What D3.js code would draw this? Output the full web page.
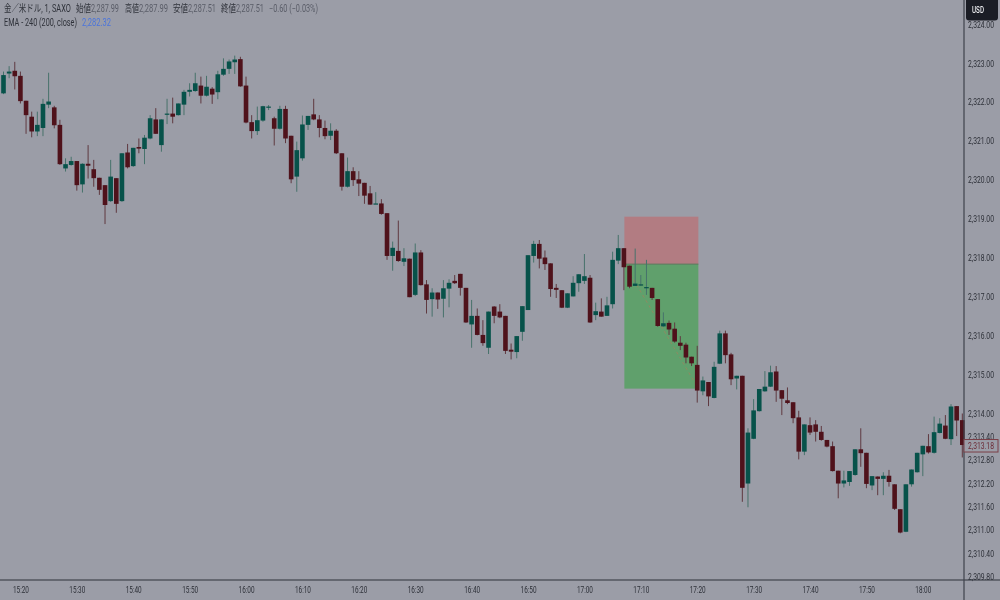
<!DOCTYPE html>
<html>
<head>
<meta charset="utf-8">
<script src="https://cdn.jsdelivr.net/npm/d3@7"></script>
<style>
  html, body { margin: 0; padding: 0; background: #9b9da7; }
  svg { display: block; filter: blur(0.35px); }
  text { font-family: Roboto, "Noto Sans CJK JP", sans-serif; }
</style>
</head>
<body>
<div id="chart"></div>
<script>
// one candle per minute, first one at 15:17
const opens = [
  2322.22,2322.73,2322.80,2322.67,2322.03,2321.62,2321.24,2321.33,2321.93,2321.86,
  2321.41,2320.29,2320.38,2320.48,2319.88,2320.41,2320.27,2320.05,2319.86,2319.45,
  2320.04,2319.45,2320.70,2320.35,2320.84,2320.79,2321.06,2321.55,2320.89,2321.68,
  2321.70,2321.66,2321.93,2322.26,2322.28,2322.42,2322.16,2322.34,2322.25,2322.70,
  2322.85,2323.02,2323.10,2322.42,2321.48,2321.25,2321.52,2321.87,2321.58,2321.31,
  2321.82,2321.13,2320.08,2320.55,2321.41,2321.68,2321.55,2321.33,2321.13,2321.26,
  2320.68,2319.82,2320.22,2320.01,2319.92,2319.65,2319.38,2319.39,2319.14,2318.04,
  2318.17,2317.89,2317.97,2317.04,2318.13,2317.31,2316.93,2317.10,2316.94,2317.20,
  2317.40,2317.58,2317.22,2316.28,2316.50,2316.01,2315.68,2316.74,2316.61,2316.50,
  2315.63,2315.57,2316.09,2316.65,2318.04,2318.35,2318.00,2317.85,2317.22,2317.16,
  2316.71,2317.00,2317.34,2317.40,2317.48,2316.52,2316.61,2316.50,2316.80,2317.92,
  2318.24,2317.79,2317.27,2317.28,2317.22,2317.22,2316.93,2316.23,2316.32,2316.17,
  2315.81,2315.76,2315.45,2315.24,2314.56,2314.80,2314.39,2315.27,2316.05,2315.51,
  2314.89,2314.96,2312.19,2313.34,2314.05,2314.56,2314.68,2315.07,2314.59,2314.33,
  2314.28,2313.89,2313.01,2313.69,2313.71,2313.52,2313.31,2313.15,2312.52,2312.19,
  2312.23,2312.41,2313.07,2312.98,2312.14,2312.37,2312.31,2312.39,2312.17,2311.53,
  2310.95,2312.17,2312.48,2312.94,2313.15,2312.98,2313.49,2313.68,2313.33,2314.18,
  2313.82];
const closes = [
  2322.69,2322.78,2322.66,2322.02,2321.66,2321.24,2321.41,2321.95,2322.01,2321.40,
  2320.40,2320.40,2320.48,2319.86,2320.41,2320.36,2320.04,2319.74,2319.35,2320.08,
  2319.38,2320.68,2320.32,2320.82,2320.80,2321.08,2321.58,2321.18,2321.55,2321.70,
  2321.62,2321.96,2322.26,2322.31,2322.48,2322.16,2322.39,2322.19,2322.71,2322.85,
  2323.04,2323.09,2322.40,2321.47,2321.25,2321.53,2321.89,2321.88,2321.31,2321.82,
  2321.06,2320.01,2320.76,2321.42,2321.64,2321.55,2321.33,2321.12,2321.26,2320.68,
  2319.82,2320.22,2319.99,2319.90,2319.59,2319.36,2319.39,2319.12,2318.04,2318.25,
  2317.91,2317.98,2316.98,2318.13,2317.29,2316.91,2317.10,2316.92,2317.21,2317.35,
  2317.34,2317.22,2316.33,2316.50,2316.01,2315.80,2316.61,2316.50,2316.46,2315.60,
  2315.58,2315.98,2316.75,2318.06,2318.35,2317.97,2317.83,2317.19,2317.17,2316.71,
  2317.08,2317.35,2317.57,2317.52,2316.33,2316.62,2316.48,2316.77,2317.94,2318.24,
  2317.75,2317.25,2317.33,2317.31,2317.24,2316.96,2316.24,2316.31,2316.15,2315.84,
  2315.73,2315.43,2315.28,2314.58,2314.84,2314.43,2315.19,2316.05,2315.49,2314.87,
  2314.96,2312.08,2313.50,2314.07,2314.62,2314.68,2315.05,2314.58,2314.37,2314.26,
  2313.87,2313.01,2313.71,2313.50,2313.52,2313.31,2313.14,2312.51,2312.19,2312.27,
  2312.51,2313.07,2312.97,2312.18,2312.38,2312.31,2312.39,2312.23,2311.54,2310.93,
  2312.17,2312.55,2312.98,2313.16,2312.99,2313.51,2313.73,2313.34,2314.17,2313.81,
  2313.18];
const highs = [
  2322.78,2322.92,2323.03,2322.78,2322.03,2321.75,2321.75,2322.08,2322.75,2321.90,
  2321.54,2320.55,2320.59,2320.48,2320.42,2320.89,2320.51,2320.05,2319.86,2320.51,
  2320.04,2320.68,2320.92,2320.82,2321.06,2321.15,2321.66,2321.84,2321.55,2322.08,
  2322.11,2321.96,2322.31,2322.48,2322.75,2322.65,2322.67,2322.38,2322.80,2323.12,
  2323.09,2323.19,2323.16,2322.65,2321.66,2321.88,2321.90,2321.92,2321.62,2321.90,
  2321.90,2321.13,2320.98,2321.65,2321.64,2322.08,2321.66,2321.52,2321.45,2321.30,
  2320.68,2320.57,2320.32,2320.22,2319.92,2319.84,2319.68,2319.50,2319.14,2318.41,
  2318.95,2318.24,2317.97,2318.36,2318.19,2317.42,2317.21,2317.10,2317.42,2317.44,
  2317.55,2317.58,2317.22,2316.91,2316.69,2316.39,2316.61,2316.75,2316.80,2316.50,
  2315.79,2315.98,2316.75,2318.06,2318.43,2318.45,2318.18,2317.85,2317.32,2317.16,
  2317.08,2317.52,2317.57,2318.09,2317.55,2316.84,2316.95,2316.99,2318.15,2318.58,
  2318.24,2317.79,2318.23,2317.55,2317.94,2317.22,2316.93,2316.59,2316.38,2316.33,
  2315.98,2315.81,2315.45,2315.73,2314.94,2314.80,2315.32,2316.12,2316.12,2315.55,
  2314.96,2314.96,2313.61,2314.36,2314.62,2315.08,2315.22,2315.21,2314.59,2314.66,
  2314.28,2314.06,2313.71,2313.89,2313.82,2313.67,2313.31,2313.27,2312.52,2312.52,
  2312.51,2313.07,2313.61,2312.98,2312.38,2312.37,2312.48,2312.54,2312.17,2311.53,
  2312.17,2312.55,2312.98,2313.16,2313.46,2313.91,2313.87,2313.95,2314.23,2314.18,
  2313.99];
const lows = [
  2322.20,2322.61,2322.32,2321.96,2321.18,2321.09,2321.12,2321.12,2321.84,2321.32,
  2320.38,2320.21,2320.36,2319.72,2319.67,2320.03,2319.82,2319.61,2318.86,2319.43,
  2319.15,2319.43,2320.29,2320.33,2320.68,2320.40,2321.04,2321.18,2320.72,2321.43,
  2321.45,2321.65,2321.66,2322.14,2322.26,2321.96,2322.14,2321.95,2322.07,2322.67,
  2322.72,2322.72,2322.39,2321.45,2321.06,2321.15,2321.49,2321.79,2320.88,2321.29,
  2320.94,2319.91,2319.69,2320.49,2321.28,2321.53,2321.09,2321.04,2321.02,2320.66,
  2319.72,2319.80,2319.84,2319.58,2319.38,2319.36,2319.38,2319.10,2317.94,2317.66,
  2317.89,2317.78,2316.98,2317.01,2317.28,2316.56,2316.48,2316.68,2316.46,2316.72,
  2317.32,2317.02,2316.32,2315.68,2316.00,2315.73,2315.52,2316.31,2316.44,2315.52,
  2315.38,2315.41,2315.86,2316.65,2317.87,2317.72,2317.68,2316.99,2316.96,2316.70,
  2316.70,2317.00,2317.12,2317.32,2316.32,2316.39,2316.48,2316.50,2316.69,2317.83,
  2317.16,2317.21,2317.27,2317.27,2317.04,2316.91,2316.22,2316.22,2316.01,2315.81,
  2315.62,2315.28,2315.21,2314.27,2314.46,2314.18,2314.38,2315.26,2315.28,2314.72,
  2314.61,2311.72,2311.58,2313.33,2314.04,2314.55,2314.67,2314.29,2313.95,2314.23,
  2313.74,2312.81,2312.92,2313.44,2313.27,2313.29,2313.12,2312.50,2311.81,2312.09,
  2312.13,2312.39,2312.62,2312.07,2312.02,2311.89,2311.89,2312.11,2311.51,2310.91,
  2310.94,2312.11,2312.47,2312.38,2312.96,2312.96,2313.48,2313.33,2313.18,2313.41,
  2312.86];

const priceTicks = [2324, 2323, 2322, 2321, 2320, 2319, 2318, 2317, 2316, 2315, 2314,
  2313.4, 2312.8, 2312.2, 2311.6, 2311, 2310.4, 2309.8];
const lastPrice = 2313.18;

// short position tool
const stopPrice = 2319.05;
const entryPrice = 2317.83;
const targetPrice = 2314.63;
const toolStart = new Date(2024, 0, 2, 17, 7, 5);
const toolEnd = new Date(2024, 0, 2, 17, 20, 12);

const firstBar = new Date(2024, 0, 2, 15, 17);
const lastBar = new Date(2024, 0, 2, 18, 7);

const w = 1000, h = 600;
const axisX = 964, axisY = 580;

const x = d3.scaleTime().domain([firstBar, lastBar]).range([3.5, 962.3]);
const y = d3.scaleLinear().domain([2324.62, 2309.71]).range([0, axisY]);
const barTime = (i) => d3.timeMinute.offset(firstBar, i);

// the reference text is horizontally squeezed, so scale each label to its width
function squeeze(selection, width) {
  selection.each(function(d) {
    const label = d3.select(this);
    const left = +label.attr('x') || 0;
    const target = typeof width === 'function' ? width(d) : width;
    const ratio = target / this.getComputedTextLength();
    label.attr('x', 0)
      .attr('transform', `translate(${left},0) scale(${ratio},1)`);
  });
}

const svg = d3.select('#chart').append('svg')
  .attr('width', w)
  .attr('height', h);

svg.append('rect')
  .attr('width', w)
  .attr('height', h)
  .attr('fill', '#9b9da7');

// position tool zones
svg.append('rect')
  .attr('x', x(toolStart))
  .attr('y', y(stopPrice))
  .attr('width', x(toolEnd) - x(toolStart))
  .attr('height', y(entryPrice) - y(stopPrice))
  .attr('fill', '#b27c82');

svg.append('rect')
  .attr('x', x(toolStart))
  .attr('y', y(entryPrice))
  .attr('width', x(toolEnd) - x(toolStart))
  .attr('height', y(targetPrice) - y(entryPrice))
  .attr('fill', '#60a06c');

svg.append('line')
  .attr('x1', x(toolStart))
  .attr('x2', x(toolEnd))
  .attr('y1', y(entryPrice))
  .attr('y2', y(entryPrice))
  .attr('stroke', '#5b7a5c');

svg.append('line')
  .attr('x1', x(toolStart))
  .attr('x2', x(toolEnd))
  .attr('y1', y(entryPrice))
  .attr('y2', y(targetPrice))
  .attr('stroke', '#8f8a62')
  .attr('stroke-dasharray', '3 3');

// candles
const candles = d3.range(opens.length);
const isUp = (i) => closes[i] >= opens[i];
const plot = svg.append('g').attr('class', 'candles');

plot.selectAll('line')
  .data(candles)
  .enter()
  .append('line')
  .attr('x1', (i) => x(barTime(i)))
  .attr('x2', (i) => x(barTime(i)))
  .attr('y1', (i) => y(highs[i]))
  .attr('y2', (i) => y(lows[i]))
  .attr('stroke', (i) => (isUp(i) ? '#47726b' : '#5f3940'))
  .attr('stroke-width', 1);

plot.selectAll('rect')
  .data(candles)
  .enter()
  .append('rect')
  .attr('x', (i) => x(barTime(i)) - 2.3)
  .attr('y', (i) => y(Math.max(opens[i], closes[i])))
  .attr('width', 4.6)
  .attr('height', (i) => Math.max(1.2, Math.abs(y(opens[i]) - y(closes[i]))))
  .attr('fill', (i) => (isUp(i) ? '#07524a' : '#4f121b'));

// axes
const yAxis = d3.axisRight(y)
  .tickValues(priceTicks)
  .tickSize(0)
  .tickPadding(4)
  .tickFormat(d3.format(',.2f'));

const xAxis = d3.axisBottom(x)
  .ticks(d3.timeMinute.every(10))
  .tickSize(0)
  .tickPadding(6)
  .tickFormat(d3.timeFormat('%H:%M'));

const yG = svg.append('g')
  .attr('transform', `translate(${axisX},0)`)
  .call(yAxis);
yG.select('.domain').remove();
yG.selectAll('text')
  .attr('font-family', 'Roboto')
  .attr('font-size', 9.5)
  .attr('fill', '#2c2f37')
  .call(squeeze, 26);

const xG = svg.append('g')
  .attr('transform', `translate(0,${axisY})`)
  .call(xAxis);
xG.select('.domain').remove();
xG.selectAll('text')
  .attr('font-family', 'Roboto')
  .attr('font-size', 9.5)
  .attr('fill', '#2c2f37')
  .call(squeeze, 16);

svg.append('line')
  .attr('x1', 0).attr('x2', w)
  .attr('y1', axisY).attr('y2', axisY)
  .attr('stroke', '#2f323a')
  .attr('stroke-width', 1.2);

svg.append('line')
  .attr('x1', axisX).attr('x2', axisX)
  .attr('y1', 0).attr('y2', h)
  .attr('stroke', '#3f424b')
  .attr('stroke-width', 1.2);

// last price tag
svg.append('rect')
  .attr('x', axisX)
  .attr('y', y(lastPrice) - 5.5)
  .attr('width', 34)
  .attr('height', 12.5)
  .attr('fill', '#9b9da7')
  .attr('stroke', '#7a3f48');

svg.append('text')
  .attr('x', 968)
  .attr('y', y(lastPrice) + 4)
  .attr('font-size', 9.5)
  .attr('fill', '#6b2a35')
  .text(d3.format(',.2f')(lastPrice))
  .call(squeeze, 26);

// currency button
svg.append('rect')
  .attr('x', 966)
  .attr('y', -4)
  .attr('width', 32)
  .attr('height', 24.5)
  .attr('rx', 3)
  .attr('fill', '#1b1d25');

svg.append('text')
  .attr('x', 972)
  .attr('y', 13.5)
  .attr('font-size', 9)
  .attr('font-weight', 500)
  .attr('fill', '#e8e9ec')
  .text('USD')
  .call(squeeze, 12);

// header text
const header = [
  ['金／米ドル, 1, SAXO', 4, 12, 67, '#2f323a'],
  ['始値', 76, 12, 15, '#2f323a'],
  ['2,287.99', 91, 12, 28, '#5a5d68'],
  ['高値', 125, 12, 14, '#2f323a'],
  ['2,287.99', 139, 12, 29, '#5a5d68'],
  ['安値', 173, 12, 15, '#2f323a'],
  ['2,287.51', 188, 12, 28, '#5a5d68'],
  ['終値', 221, 12, 15, '#2f323a'],
  ['2,287.51', 236, 12, 28, '#5a5d68'],
  ['−0.60 (−0.03%)', 269, 12, 49, '#5a5d68'],
  ['EMA - 240 (200, close)', 4, 26, 73, '#2f323a'],
  ['2,282.32', 82, 26, 29, '#4a74dc'],
];

svg.append('g').selectAll('text')
  .data(header)
  .enter()
  .append('text')
  .attr('x', (d) => d[1])
  .attr('y', (d) => d[2])
  .attr('font-size', 10)
  .attr('fill', (d) => d[4])
  .text((d) => d[0])
  .call(squeeze, (d) => d[3]);
</script>
</body>
</html>
